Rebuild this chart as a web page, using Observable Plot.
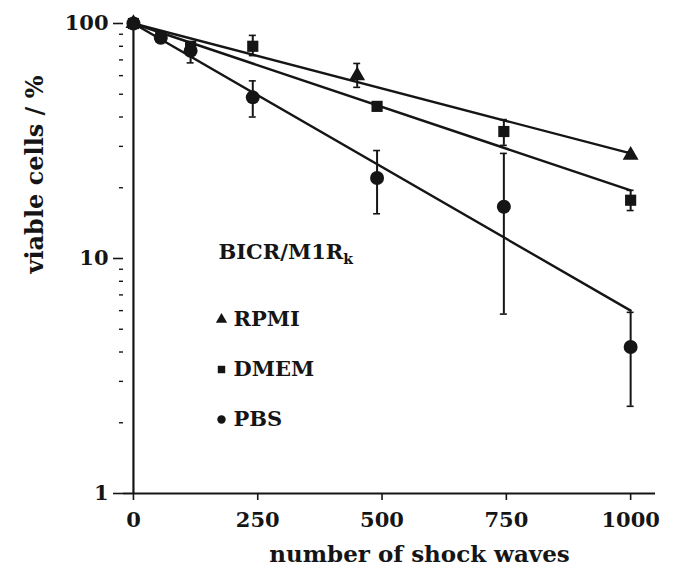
<!DOCTYPE html>
<html>
<head>
<meta charset="utf-8">
<script src="https://cdn.jsdelivr.net/npm/d3@7"></script>
<script src="https://cdn.jsdelivr.net/npm/@observablehq/plot@0.6"></script>
<style>
  html, body { margin: 0; padding: 0; background: #fff; }
  #chart svg { display: block; }
</style>
</head>
<body>
<div id="chart"></div>
<script>
// ---- data ----
const xPBS  = [0, 55, 115, 240, 490, 745, 1000];
const yPBS  = [100, 87, 76.5, 48.5, 22, 16.6, 4.2];
const loPBS = [null, null, 68, 40, 15.5, 5.8, 2.35];
const hiPBS = [null, null, 82, 57, 28.8, 28, 5.9];

const xDMEM  = [0, 55, 115, 240, 490, 745, 1000];
const yDMEM  = [100, 88, 80, 80, 44.4, 34.7, 17.7];
const loDMEM = [null, null, null, 73, 43, 30.3, 16];
const hiDMEM = [null, null, null, 89, 46, 39, 19.5];

const xRPMI  = [0, 450, 1000];
const yRPMI  = [100, 60, 27.5];
const loRPMI = [null, 53.5, 26.8];
const hiRPMI = [null, 67.6, 28.4];

// fitted exponential lines (end points)
const fitX    = [0, 1000];
const fitRPMI = [100, 28];
const fitDMEM = [100, 19.5];
const fitPBS  = [100, 6.0];

const xTicks = [0, 250, 500, 750, 1000];
const yTicks = [1, 10, 100];
const yMinor = [2,3,4,5,6,7,8,9,20,30,40,50,60,70,80,90];

const seriesNames = ["RPMI", "DMEM", "PBS"];
const seriesSymbols = ["triangle", "square", "circle"];
const seriesSizes = [5.9, 6.3, 7];
const cellLine = "BICR/M1Rk";
const xLabel = "number of shock waves";
const yLabel = "viable cells / %";

// ---- build tables ----
function rows(name, xs, ys, lo, hi) {
  return xs.map((x, i) => ({series: name, x, y: ys[i], lo: lo[i], hi: hi[i]}));
}
const pts = [
  ...rows("PBS", xPBS, yPBS, loPBS, hiPBS),
  ...rows("DMEM", xDMEM, yDMEM, loDMEM, hiDMEM),
  ...rows("RPMI", xRPMI, yRPMI, loRPMI, hiRPMI)
];
const errs = pts.filter(d => d.lo != null);
const fits = [
  ...fitX.map((x, i) => ({series: "RPMI", x, y: fitRPMI[i]})),
  ...fitX.map((x, i) => ({series: "DMEM", x, y: fitDMEM[i]})),
  ...fitX.map((x, i) => ({series: "PBS", x, y: fitPBS[i]}))
];

const ink = "#151515";
const font = "DejaVu Serif";
const capHalf = 7; // data units

const markerMarks = seriesNames.map((s, i) =>
  Plot.dot(pts.filter(d => d.series === s), {x: "x", y: "y", symbol: seriesSymbols[i],
           fill: ink, stroke: "none", r: seriesSizes[i]}));

const legendTop = 296;   // px from the frame's top-left
const legendStep = 50;
const legendMarks = seriesNames.flatMap((s, i) => [
  Plot.dot([s], {frameAnchor: "top-left", dx: 98, dy: legendTop + i * legendStep,
                 symbol: seriesSymbols[i], fill: ink, r: 4.2}),
  Plot.text([s], {frameAnchor: "top-left", dx: 110, dy: legendTop + i * legendStep,
                  lineAnchor: "middle", textAnchor: "start", fontSize: 21, fontWeight: "bold", fill: ink})
]);

const plot = Plot.plot({
  width: 678,
  height: 571,
  marginLeft: 123,
  marginRight: 23,
  marginTop: 23,
  marginBottom: 78,
  style: {fontFamily: font, color: ink, background: "#fff"},
  x: {domain: [-20, 1050]},
  y: {type: "log", domain: [1, 100]},
  marks: [
    // axis lines
    Plot.ruleY([1], {x1: -20, x2: 1050, stroke: ink, strokeWidth: 2.2}),
    Plot.ruleX([0], {y1: 1, y2: 100, stroke: ink, strokeWidth: 2.2}),
    Plot.axisX({ticks: xTicks, tickSize: 7, tickPadding: 12, fontSize: 21, fontWeight: "bold",
                stroke: ink, strokeWidth: 1.6, label: null, tickFormat: d => String(d)}),
    Plot.axisY({ticks: yTicks, tickSize: 10, tickPadding: 5, fontSize: 21, fontWeight: "bold",
                stroke: ink, strokeWidth: 1.6, label: null, tickFormat: d => String(d)}),
    Plot.axisY({ticks: yMinor, tickSize: 4, text: null, stroke: ink, strokeWidth: 1.4, label: null}),
    // fitted lines
    Plot.line(fits, {x: "x", y: "y", z: "series", stroke: ink, strokeWidth: 2.4}),
    // error bars
    Plot.ruleX(errs, {x: "x", y1: "lo", y2: "hi", stroke: ink, strokeWidth: 2}),
    Plot.ruleY(errs, {y: "lo", x1: d => d.x - capHalf, x2: d => d.x + capHalf, stroke: ink, strokeWidth: 1.6}),
    Plot.ruleY(errs, {y: "hi", x1: d => d.x - capHalf, x2: d => d.x + capHalf, stroke: ink, strokeWidth: 1.6}),
    // markers
    ...markerMarks,
    // legend
    Plot.text([cellLine], {frameAnchor: "top-left", dx: 95, dy: 229, lineAnchor: "middle", textAnchor: "start",
                           fontSize: 21, fontWeight: "bold", fill: ink, className: "cellline"}),
    ...legendMarks,
    // axis titles
    Plot.text([xLabel], {frameAnchor: "bottom", dx: 30, dy: 68, lineAnchor: "bottom", fontSize: 23,
                         fontWeight: "bold", fill: ink, letterSpacing: "2px", wordSpacing: "9px"}),
    Plot.text([yLabel], {frameAnchor: "left", dx: -88, dy: 15, rotate: -90, fontSize: 24,
                         fontWeight: "bold", fill: ink, letterSpacing: "2.5px", wordSpacing: "8px"})
  ]
});

// subscript k in cell-line name
d3.select(plot).selectAll(".cellline text").each(function() {
  const t = d3.select(this);
  t.text(null);
  t.append("tspan").text(cellLine.slice(0, -1));
  t.append("tspan").attr("font-size", 14).attr("dy", "0.35em").text(cellLine.slice(-1));
});

document.getElementById("chart").append(plot);
</script>
</body>
</html>
